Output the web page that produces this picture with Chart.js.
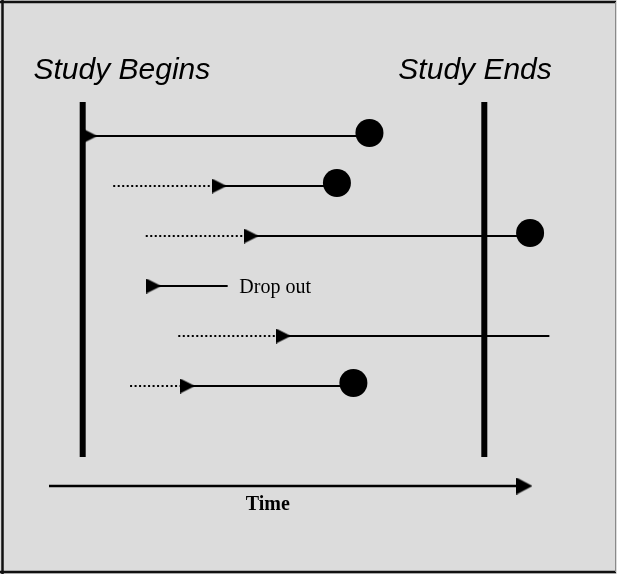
<!DOCTYPE html>
<html>
<head>
<meta charset="utf-8">
<script src="https://cdn.jsdelivr.net/npm/chart.js@4.4.1/dist/chart.umd.min.js"></script>
<style>
  html, body { margin: 0; padding: 0; background: #dcdcdc; }
  #wrap { width: 617px; height: 574px; }
</style>
</head>
<body>
<div id="wrap"><canvas id="c" width="617" height="574"></canvas></div>
<script>
// ---- Data (time units: study begins = 0, study ends = 100; one row per subject) ----
const subjectRow   = [1, 2, 3, 4, 5, 6];
const historyStart = [null, 7.6, 15.7, null, 23.8, 11.8];   // dotted: time before entering study
const entryTime    = [1.8, 34.0, 42.0, 17.7, 50.0, 26.1];   // arrowhead: enters observation
const exitTime     = [71.4, 63.3, 111.4, 36.1, 116.2, 67.4]; // end of follow-up
const outcome      = ['event', 'event', 'event', 'dropout', 'censored', 'event'];
const studyBegin = 0;
const studyEnd = 100;
const labels = { begin: 'Study Begins', end: 'Study Ends', dropout: 'Drop out', time: 'Time' };

// ---- Layout constants ----
const X_MIN = -20.59, X_MAX = 133.04;
const Y_MIN = -1.72, Y_MAX = 9.76;
const STUDY_LINE_TOP = 0.32, STUDY_LINE_BOTTOM = 7.42;
const TIME_AXIS_ROW = 8.0, TIME_AXIS_FROM = -8.39, TIME_AXIS_HEAD = 110.0;
const MARKER_LIFT = 0.06;

function arrowImg(len, h) {
  const c = document.createElement('canvas');
  c.width = len; c.height = h;
  const g = c.getContext('2d');
  g.fillStyle = '#000';
  g.beginPath(); g.moveTo(0, 0); g.lineTo(len, h / 2); g.lineTo(0, h); g.closePath(); g.fill();
  return c;
}
const rowArrow = arrowImg(15, 15);
const axisArrow = arrowImg(16, 17);

const dotted = [];
const solid = [];
const arrows = [];
const events = [];
let dropIdx = -1;
subjectRow.forEach((r, i) => {
  if (historyStart[i] !== null) {
    dotted.push({ x: historyStart[i], y: r }, { x: entryTime[i], y: r }, { x: entryTime[i], y: null });
  }
  solid.push({ x: entryTime[i], y: r }, { x: exitTime[i], y: r }, { x: exitTime[i], y: null });
  arrows.push({ x: entryTime[i], y: r });
  if (outcome[i] === 'event') events.push({ x: exitTime[i], y: r - MARKER_LIFT });
  if (outcome[i] === 'dropout') dropIdx = i;
});

const bgPlugin = {
  id: 'bg',
  beforeDraw(chart) {
    const ctx = chart.ctx;
    ctx.save();
    ctx.fillStyle = '#dcdcdc';
    ctx.fillRect(0, 0, chart.width, chart.height);
    ctx.strokeStyle = '#111';
    ctx.lineWidth = 2.5;
    ctx.beginPath();
    ctx.moveTo(0, 2); ctx.lineTo(616, 2);
    ctx.moveTo(2.5, 0); ctx.lineTo(2.5, 574);
    ctx.moveTo(0, 572); ctx.lineTo(616, 572);
    ctx.stroke();
    ctx.strokeStyle = '#8a8a8a';
    ctx.lineWidth = 1;
    ctx.beginPath(); ctx.moveTo(615.5, 2); ctx.lineTo(615.5, 572); ctx.stroke();
    ctx.restore();
  }
};

const textPlugin = {
  id: 'texts',
  afterDatasetsDraw(chart) {
    const ctx = chart.ctx, xs = chart.scales.x, ys = chart.scales.y;
    const px = v => xs.getPixelForValue(v), py = v => ys.getPixelForValue(v);
    ctx.save();
    ctx.fillStyle = '#000';
    ctx.textBaseline = 'alphabetic';
    ctx.textAlign = 'left';
    ctx.font = "italic 30px 'Liberation Sans', Arial, sans-serif";
    ctx.fillText(labels.begin, px(-12.25), py(-0.14));
    ctx.fillText(labels.end, px(78.6), py(-0.14));
    ctx.font = "20px 'Liberation Serif', 'Times New Roman', serif";
    if (dropIdx >= 0) ctx.fillText(labels.dropout, px(exitTime[dropIdx]) + 11.6, py(subjectRow[dropIdx]) + 7.3);
    ctx.font = "bold 20px 'Liberation Serif', 'Times New Roman', serif";
    ctx.textAlign = 'center';
    ctx.fillText(labels.time, px(46.1), py(8.486));
    ctx.restore();
  }
};

new Chart(document.getElementById('c'), {
  type: 'scatter',
  data: {
    datasets: [
      { label: 'events', data: events, pointStyle: 'circle', pointRadius: 14, pointBorderWidth: 0,
        backgroundColor: '#000', borderColor: '#000', showLine: false, order: 0, clip: false },
      { label: 'entry', data: arrows, pointStyle: rowArrow, pointRadius: 8, showLine: false, order: 0, clip: false },
      { label: 'axisHead', data: [{ x: TIME_AXIS_HEAD, y: TIME_AXIS_ROW }], pointStyle: axisArrow, pointRadius: 8, showLine: false, order: 0, clip: false },
      { label: 'follow-up', data: solid, showLine: true, spanGaps: false, borderColor: '#000', borderWidth: 2,
        pointRadius: 0, order: 2 },
      { label: 'history', data: dotted, showLine: true, spanGaps: false, borderColor: '#000', borderWidth: 2,
        borderDash: [2, 2.5], pointRadius: 0, order: 2 },
      { label: 'begin', data: [{ x: studyBegin, y: STUDY_LINE_TOP }, { x: studyBegin, y: STUDY_LINE_BOTTOM }],
        showLine: true, borderColor: '#000', borderWidth: 6, borderCapStyle: 'butt', pointRadius: 0, order: 1 },
      { label: 'end', data: [{ x: studyEnd, y: STUDY_LINE_TOP }, { x: studyEnd, y: STUDY_LINE_BOTTOM }],
        showLine: true, borderColor: '#000', borderWidth: 6, borderCapStyle: 'butt', pointRadius: 0, order: 1 },
      { label: 'time', data: [{ x: TIME_AXIS_FROM, y: TIME_AXIS_ROW }, { x: TIME_AXIS_HEAD, y: TIME_AXIS_ROW }],
        showLine: true, borderColor: '#000', borderWidth: 2.5, pointRadius: 0, order: 1 }
    ]
  },
  options: {
    responsive: false,
    animation: false,
    layout: { padding: 0, autoPadding: false },
    scales: {
      x: { type: 'linear', display: false, min: X_MIN, max: X_MAX },
      y: { type: 'linear', display: false, min: Y_MIN, max: Y_MAX, reverse: true }
    },
    plugins: { legend: { display: false }, tooltip: { enabled: false } },
    elements: { line: { tension: 0 } }
  },
  plugins: [bgPlugin, textPlugin]
});
</script>
</body>
</html>
